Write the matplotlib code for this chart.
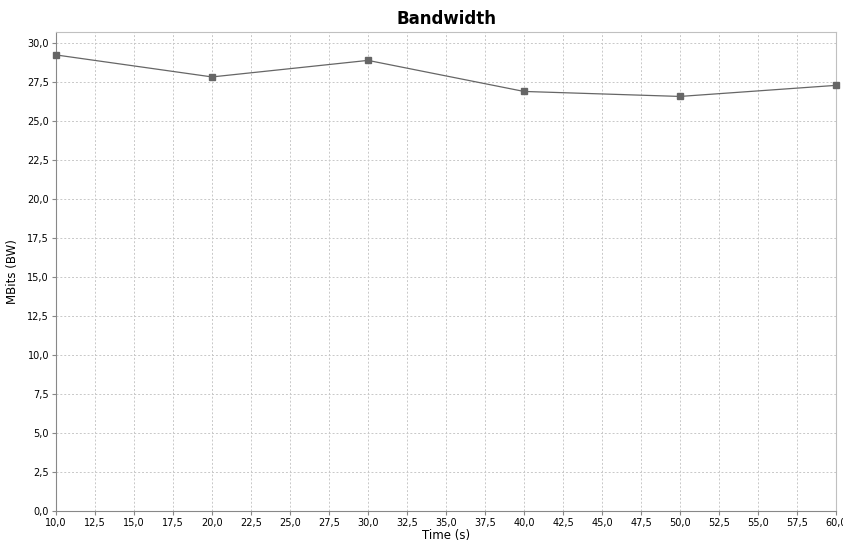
import numpy as np
import matplotlib
matplotlib.use("Agg")
import matplotlib.pyplot as plt
from matplotlib.ticker import MultipleLocator, FuncFormatter

time_s = [10, 20, 30, 40, 50, 60]
bandwidth = [29.23, 27.82, 28.88, 26.89, 26.57, 27.28]

fig = plt.figure(figsize=(8.43, 5.45), dpi=100)
ax = fig.add_axes([56/843, 34/545, 780/843, 479/545])

ax.plot(time_s, bandwidth, color='#666666', lw=0.9, marker='s', ms=5,
        mfc='#666666', mec='#666666', clip_on=False, zorder=3)

ax.set_xlim(10, 60)
ax.set_ylim(0, 30.7)
ax.xaxis.set_major_locator(MultipleLocator(2.5))
ax.yaxis.set_major_locator(MultipleLocator(2.5))
comma = FuncFormatter(lambda v, p: f"{v:.1f}".replace('.', ','))
ax.xaxis.set_major_formatter(comma)
ax.yaxis.set_major_formatter(comma)

ax.grid(True, color='#c8c8c8', ls=(0, (2, 2)), lw=0.7)
ax.set_axisbelow(True)
for s in ['top', 'right']:
    ax.spines[s].set_color('#c0c0c0')
for s in ['left', 'bottom']:
    ax.spines[s].set_color('#888888')
ax.tick_params(labelsize=7, length=3, width=0.8, color='#888888', pad=2)

ax.set_xlabel("Time (s)", fontsize=8.5, labelpad=1)
ax.set_ylabel("MBits (BW)", fontsize=8.5, labelpad=6)
ax.set_title("Bandwidth", fontsize=12, fontweight='bold', pad=6)

fig.savefig("out.png", dpi=100)
